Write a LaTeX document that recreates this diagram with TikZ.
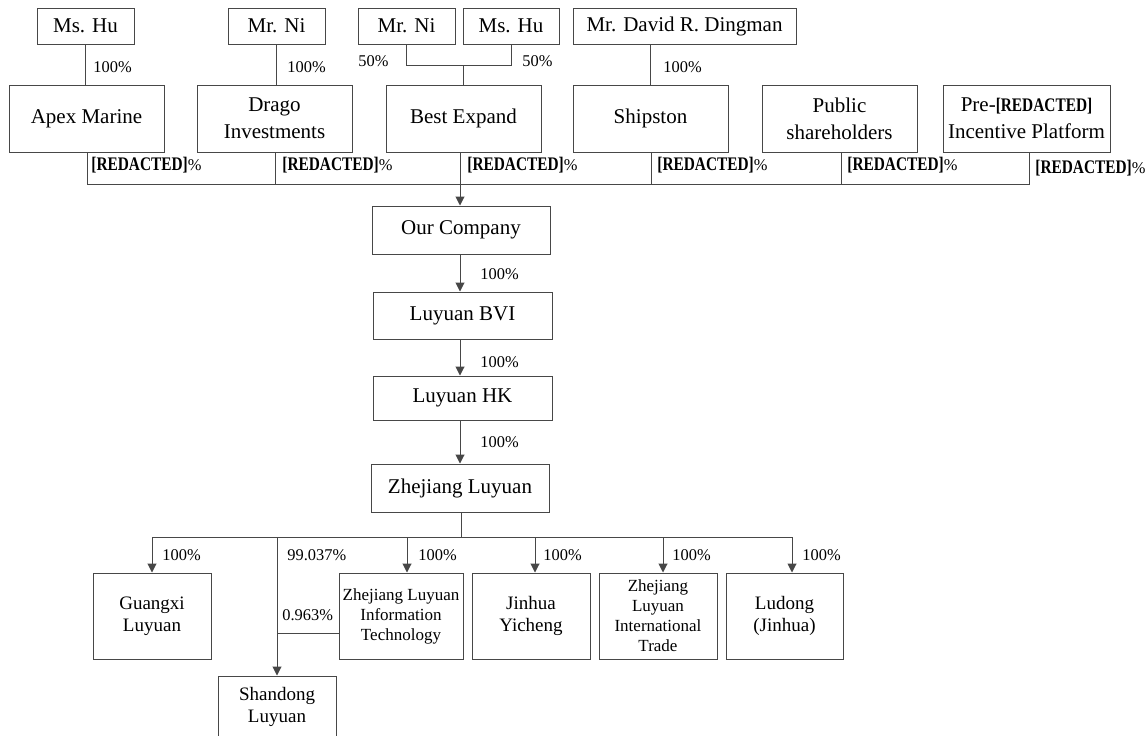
\documentclass[tikz,border=0pt]{standalone}
\usepackage{fontspec}
\usepackage{graphicx}
\setmainfont{Liberation Serif}
\usetikzlibrary{arrows.meta,calc}
\newcommand{\bigf}{\fontsize{10.5}{13.5}\selectfont}
\newcommand{\midf}{\fontsize{9.5}{11}\selectfont}
\newcommand{\smlf}{\fontsize{8.5}{10}\selectfont}
\newcommand{\pctf}{\fontsize{8.2}{9}\selectfont}
\newcommand{\redx}{\scalebox{0.8}[1]{\fontsize{9.6}{10}\selectfont\textbf{[REDACTED]}}}
\begin{document}
\begin{tikzpicture}[x=0.5pt,y=-0.5pt,
  box/.style={draw=black!72, line width=0.5pt, rectangle, inner sep=1pt, align=center, font=\bigf},
  ln/.style={draw=black!72, line width=0.5pt},
  arr/.style={ln, -{Triangle[length=4.5pt,width=4.5pt]}},
  pct/.style={anchor=west, inner sep=0pt, font=\pctf}]
\useasboundingbox (0,0) rectangle (1145,735);
% top row
\node[box,minimum width=48.5pt,minimum height=18pt] (mshu1) at (85.5,26) {Ms. Hu};
\node[box,minimum width=48.5pt,minimum height=18pt] (mrni1) at (276.5,26) {Mr. Ni};
\node[box,minimum width=48.5pt,minimum height=18pt] (mrni2) at (406.5,26) {Mr. Ni};
\node[box,minimum width=48pt,minimum height=18pt] (mshu2) at (511,26) {Ms. Hu};
\node[box,minimum width=111.5pt,minimum height=18pt] (ding) at (684.5,26) {Mr. David R. Dingman};
% second row
\node[box,minimum width=77.5pt,minimum height=33.5pt] (apex) at (86.5,118.5) {Apex Marine};
\node[box,minimum width=77.5pt,minimum height=33.5pt] (drago) at (274.5,118.5) {Drago\\Investments};
\node[box,minimum width=77.5pt,minimum height=33.5pt] (best) at (463.5,118.5) {Best Expand};
\node[box,minimum width=77.5pt,minimum height=33.5pt] (ship) at (650.5,118.5) {Shipston};
\node[box,minimum width=77.5pt,minimum height=33.5pt] (pub) at (839.5,118.5) {Public\\shareholders};
\node[box,minimum width=83.5pt,minimum height=33.5pt] (pre) at (1026.5,118.5) {Pre-\redx\\Incentive Platform};
% chain
\node[box,minimum width=89pt,minimum height=24pt] (our) at (461,230) {Our Company};
\node[box,minimum width=89.5pt,minimum height=23.5pt] (bvi) at (462.5,315.5) {Luyuan BVI};
\node[box,minimum width=89.5pt,minimum height=22pt] (hk) at (462.5,398) {Luyuan HK};
\node[box,minimum width=89pt,minimum height=24pt] (zj) at (460,488) {Zhejiang Luyuan};
% bottom row
\node[box,font=\midf,minimum width=59pt,minimum height=43pt] (gx) at (152,616) {Guangxi\\Luyuan};
\node[box,font=\smlf,minimum width=62pt,minimum height=43pt] (it) at (401,616) {Zhejiang Luyuan\\Information\\Technology};
\node[box,font=\midf,minimum width=59pt,minimum height=43pt] (jh) at (531,616) {Jinhua\\Yicheng};
\node[box,font=\smlf,minimum width=59pt,minimum height=43pt] (itr) at (658,616) {Zhejiang\\Luyuan\\International\\Trade};
\node[box,font=\midf,minimum width=58.5pt,minimum height=43pt] (ld) at (784.5,616) {Ludong\\(Jinhua)};
\node[box,font=\midf,minimum width=59pt,minimum height=30.5pt] (sd) at (277,706.5) {Shandong\\Luyuan};
% top connectors
\draw[ln] (mshu1.south) -- (mshu1.south |- apex.north);
\draw[ln] (mrni1.south) -- (mrni1.south |- drago.north);
\coordinate (j) at (463.5,65);
\draw[ln] (mrni2.south) |- (mshu2.south |- j) -- (mshu2.south);
\draw[ln] (j) -- (best.north);
\draw[ln] (ship.north) -- (ship.north |- ding.south);
% bus
\coordinate (b1) at (87,184);
\coordinate (b2) at (275,184);
\coordinate (b3) at (460,184);
\coordinate (b4) at (651,184);
\coordinate (b5) at (841,184);
\coordinate (b6) at (1029,184);
\draw[ln] (apex.south -| b1) -- (b1) -- (b6) -- (pre.south -| b6);
\draw[ln] (drago.south -| b2) -- (b2);
\draw[ln] (best.south -| b3) -- (b3);
\draw[ln] (ship.south -| b4) -- (b4);
\draw[ln] (pub.south -| b5) -- (b5);
\draw[arr] (b3) -- (our.north -| b3);
\draw[arr] (our.south -| b3) -- (bvi.north -| b3);
\draw[arr] (bvi.south -| b3) -- (hk.north -| b3);
\draw[arr] (hk.south -| b3) -- (zj.north -| b3);
% bottom bus
\coordinate (zb) at (461,537);
\coordinate (c1) at (152,537);
\coordinate (c2) at (277,537);
\coordinate (c3) at (407,537);
\coordinate (c4) at (535,537);
\coordinate (c5) at (663,537);
\coordinate (c6) at (792,537);
\draw[ln] (zj.south -| zb) -- (zb);
\draw[ln] (c1) -- (c6);
\draw[arr] (c1) -- (gx.north -| c1);
\draw[arr] (c2) -- (sd.north -| c2);
\draw[arr] (c3) -- (it.north -| c3);
\draw[arr] (c4) -- (jh.north -| c4);
\draw[arr] (c5) -- (itr.north -| c5);
\draw[arr] (c6) -- (ld.north -| c6);
\coordinate (s1) at (277,633);
\draw[ln] (it.west |- s1) -- (s1);
% labels
\node[pct] (l1) at (93,67) {100\%};
\node[pct] (l2) at (287,67) {100\%};
\node[pct] (l3) at (663,67) {100\%};
\node[pct] (l4) at (358,61) {50\%};
\node[pct] (l5) at (522,61) {50\%};
\node[pct] (r1) at (91,165) {\redx\%};
\node[pct] (r2) at (282,165) {\redx\%};
\node[pct] (r3) at (467,165) {\redx\%};
\node[pct] (r4) at (657,165) {\redx\%};
\node[pct] (r5) at (847,165) {\redx\%};
\node[pct] (r6) at (1035,168) {\redx\%};
\node[pct] (m1) at (480,274) {100\%};
\node[pct] (m2) at (480,362) {100\%};
\node[pct] (m3) at (480,442) {100\%};
\node[pct] (d1) at (162,555) {100\%};
\node[pct] (d2) at (287,555) {99.037\%};
\node[pct] (d3) at (418,555) {100\%};
\node[pct] (d4) at (543,555) {100\%};
\node[pct] (d5) at (672,555) {100\%};
\node[pct] (d6) at (802,555) {100\%};
\node[pct] (d7) at (282,615) {0.963\%};
\end{tikzpicture}
\end{document}
